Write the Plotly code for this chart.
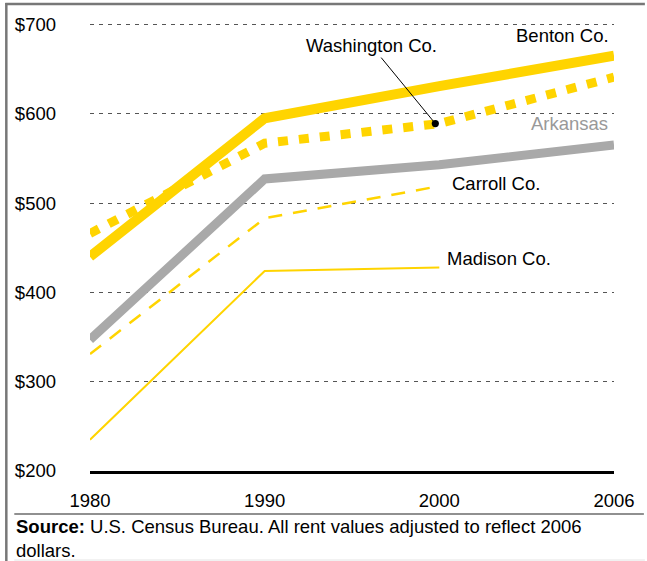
import plotly.graph_objects as go

# Median gross rent, adjusted to 2006 dollars
years = ["1980", "1990", "2000", "2006"]
benton = [440, 595, 631, 665]
washington = [466, 567, 589, 641]
arkansas = [347, 527, 543, 565]
carroll = [331, 483, 519, None]
madison = [235, 424, 428, None]

y_ticks = [200, 300, 400, 500, 600, 700]
y_tick_text = ["$200", "$300", "$400", "$500", "$600", "$700"]

YELLOW = "#FFD400"
GRAY = "#A9A9A9"
FONT = "Liberation Sans, Arial, Helvetica, sans-serif"
FS = 18.5

W, H = 647, 561
L, R, T, B = 90, 616, 20, 471  # plot area in pixels


def px_x(p):
    return (p - L) / (R - L)


def px_y(p):
    return (B - p) / (B - T)


fig = go.Figure()

series = [
    (madison, dict(color=YELLOW, width=2)),
    (carroll, dict(color=YELLOW, width=2.5, dash="14px,11px")),
    (arkansas, dict(color=GRAY, width=9)),
    (benton, dict(color=YELLOW, width=10)),
    (washington, dict(color=YELLOW, width=9, dash="10px,11px")),
]
for vals, line in series:
    fig.add_trace(go.Scatter(x=years, y=vals, mode="lines", line=line,
                             hoverinfo="skip", showlegend=False))

fig.update_xaxes(type="category", range=[0, 3], showgrid=False,
                 showline=True, linecolor="black", linewidth=3,
                 ticks="", tickfont=dict(size=FS, color="black", family=FONT),
                 ticklabelstandoff=11, zeroline=False)
fig.update_yaxes(range=[200, 705], tickvals=y_ticks, ticktext=y_tick_text,
                 showgrid=True, gridcolor="#555555", gridwidth=1,
                 griddash="4px,5px", zeroline=False, showline=False, ticks="",
                 tickfont=dict(size=FS, color="black", family=FONT),
                 ticklabelstandoff=33)

label_font = dict(size=FS, color="black", family=FONT)
annotations = [
    dict(text="Benton Co.", xref="paper", yref="y", x=px_x(613), y=688,
         xanchor="right", yanchor="middle", showarrow=False, font=label_font),
    dict(text="Arkansas", xref="paper", yref="y", x=px_x(612), y=589,
         xanchor="right", yanchor="middle", showarrow=False,
         font=dict(size=FS, color="#999999", family=FONT)),
    dict(text="Carroll Co.", xref="paper", yref="y", x=px_x(451), y=522,
         xanchor="left", yanchor="middle", showarrow=False, font=label_font),
    dict(text="Madison Co.", xref="paper", yref="y", x=px_x(446), y=438,
         xanchor="left", yanchor="middle", showarrow=False, font=label_font),
    dict(text="Washington Co.", xref="x", yref="y", x=1.977, y=washington[2],
         showarrow=True, arrowhead=6, arrowsize=1.8, arrowwidth=1,
         arrowcolor="black", ax=-64, ay=-78, font=label_font),
    dict(text="<b>Source:</b> U.S. Census Bureau. All rent values adjusted to reflect 2006<br>dollars.",
         xref="paper", yref="paper", x=px_x(14), y=px_y(514),
         xanchor="left", yanchor="top", align="left", showarrow=False,
         font=dict(size=FS, color="black", family=FONT)),
]

shapes = [
    # frame: top and left rules
    dict(type="line", xref="paper", yref="paper", x0=px_x(5), x1=px_x(647),
         y0=px_y(4), y1=px_y(4), line=dict(color="#777777", width=2.5)),
    dict(type="line", xref="paper", yref="paper", x0=px_x(6), x1=px_x(6),
         y0=px_y(3), y1=px_y(561), line=dict(color="#777777", width=2.5)),
    # rule above the source note
    dict(type="line", xref="paper", yref="paper", x0=px_x(14), x1=px_x(646),
         y0=px_y(514), y1=px_y(514), line=dict(color="#222222", width=1.2)),
    dict(type="line", xref="paper", yref="paper", x0=px_x(14), x1=px_x(647),
         y0=px_y(560), y1=px_y(560), line=dict(color="#e4e4e4", width=1)),
]

fig.update_layout(width=W, height=H,
                  margin=dict(l=L, r=W - R, t=T, b=H - B),
                  paper_bgcolor="white", plot_bgcolor="white",
                  font=dict(family=FONT, color="black"),
                  annotations=annotations, shapes=shapes, showlegend=False)

fig.write_html("out.html")
